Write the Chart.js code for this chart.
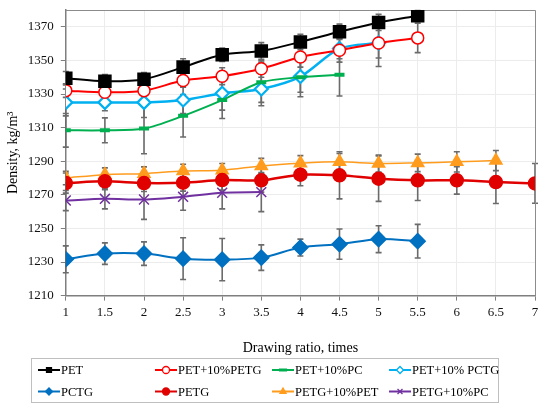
<!DOCTYPE html>
<html>
<head>
<meta charset="utf-8">
<script src="https://cdn.jsdelivr.net/npm/chart.js@4.4.0/dist/chart.umd.min.js"></script>
<style>
  html, body { margin: 0; padding: 0; background: #fff; }
  #wrap { width: 550px; height: 411px; }
</style>
</head>
<body>
<div id="wrap"><canvas id="grafico"></canvas></div>
<script>
// razão de estiramento (eixo x)
const razao = [1, 1.5, 2, 2.5, 3, 3.5, 4, 4.5, 5, 5.5, 6, 6.5, 7];
const yTicks = [1210, 1230, 1250, 1270, 1290, 1310, 1330, 1350, 1370];

// densidades (kg/m3), cada série começa em razao[0]
const pet       = [1339.4, 1337.6, 1338.8, 1346, 1353.4, 1355.6, 1361, 1367, 1372.6, 1376.6];
const petPetg   = [1332, 1331, 1332, 1338, 1340.6, 1345, 1352, 1356, 1360.4, 1363.4];
const petPc     = [1308.4, 1308.4, 1309.4, 1317, 1326.4, 1337, 1340, 1341.4];
const petPctg   = [1325, 1325, 1325, 1326.4, 1330.4, 1333, 1340.4, 1357, 1360.4];
const pctg      = [1231.6, 1235, 1235, 1232, 1231.4, 1232.6, 1238.6, 1240.6, 1243.6, 1242.4];
const petg      = [1277, 1278, 1277, 1277.2, 1278.8, 1278.6, 1282, 1281.6, 1279.6, 1278.6, 1278.6, 1277.6, 1276.8];
const petgPet   = [1280, 1282, 1282.6, 1284.2, 1284.6, 1287.2, 1288.8, 1289.6, 1288.6, 1289, 1289.6, 1290.4];
const petgPc    = [1266.6, 1267.6, 1267.2, 1268.8, 1271.2, 1271.6];

// desvios (barras de erro)
const erroPet     = [4, 4, 4, 5, 4, 5, 4.6, 4.6, 4.8, 3];
const erroPetPetg = [4, 4, 5, 4, 5, 5, 6, 7, 9, 8.8];
const erroPetPc   = [10, 7.4, 15, 12.6, 11, 12, 9, 12.6];
const erroPetPctg = [8, 5, 9, 8, 10, 10, 12, 6, 14];
const erroPctg    = [8, 6.4, 7, 12.4, 12.6, 7.6, 5, 9, 8, 10];
const erroPetg    = [6, 5, 5, 5, 6, 7, 6.6, 14, 13.5, 12, 8.2, 12.8, 11.8];
const erroPetgPet = [4, 4, 4, 4, 4, 4.5, 4.5, 5, 5, 5.2, 6, 6];
const erroPetgPc  = [6, 6, 11.8, 8, 9.6, 11.6];

function pontos(valores) {
  return valores.map((v, i) => ({ x: razao[i], y: v }));
}

const fonte = "'Liberation Serif', 'Times New Roman', serif";

function serie(label, valores, erros, cor, estilo, extra) {
  return Object.assign({
    label: label,
    data: pontos(valores),
    erros: erros,
    borderColor: cor,
    backgroundColor: cor,
    pointBackgroundColor: cor,
    pointBorderColor: cor,
    pointStyle: estilo,
    pointRadius: 6,
    pointBorderWidth: 1.5,
    borderWidth: 2,
    tension: 0.3,
    fill: false
  }, extra || {});
}

// barras de erro desenhadas com as escalas do gráfico
const barrasErro = {
  id: 'barrasErro',
  beforeDatasetsDraw(chart) {
    const ctx = chart.ctx;
    const sx = chart.scales.x, sy = chart.scales.y;
    ctx.save();
    ctx.strokeStyle = '#6b6b6b';
    ctx.lineWidth = 1.6;
    chart.data.datasets.forEach(ds => {
      ds.data.forEach((p, i) => {
        const e = ds.erros[i];
        if (!e) return;
        const x = sx.getPixelForValue(p.x);
        const y1 = sy.getPixelForValue(p.y - e);
        const y2 = sy.getPixelForValue(p.y + e);
        ctx.beginPath();
        ctx.moveTo(x, y1); ctx.lineTo(x, y2);
        ctx.moveTo(x - 3, y1); ctx.lineTo(x + 3, y1);
        ctx.moveTo(x - 3, y2); ctx.lineTo(x + 3, y2);
        ctx.stroke();
      });
    });
    ctx.restore();
  }
};

// moldura superior/direita da área do gráfico
const moldura = {
  id: 'moldura',
  beforeDatasetsDraw(chart) {
    const a = chart.chartArea, ctx = chart.ctx;
    ctx.save();
    ctx.strokeStyle = '#8c8c8c';
    ctx.lineWidth = 1;
    ctx.beginPath();
    ctx.moveTo(a.left, a.top + 0.5);
    ctx.lineTo(a.right + 0.5, a.top + 0.5);
    ctx.lineTo(a.right + 0.5, a.bottom);
    ctx.stroke();
    ctx.restore();
  }
};

// legenda em grade de 4 colunas
const legenda = {
  id: 'legenda',
  afterDraw(chart) {
    const ctx = chart.ctx;
    ctx.save();
    ctx.strokeStyle = '#bfbfbf';
    ctx.lineWidth = 1;
    ctx.strokeRect(31.5, 358.5, 467, 44);
    ctx.font = '12.5px ' + fonte;
    ctx.textBaseline = 'middle';
    ctx.fillStyle = '#000';
    chart.data.datasets.forEach((ds, i) => {
      const col = i % 4, lin = Math.floor(i / 4);
      const x0 = 38 + col * 117;
      const y0 = 370 + lin * 21.5;
      ctx.strokeStyle = ds.borderColor;
      ctx.lineWidth = 2;
      ctx.beginPath();
      ctx.moveTo(x0, y0); ctx.lineTo(x0 + 22, y0);
      ctx.stroke();
      ctx.fillStyle = ds.pointBackgroundColor;
      ctx.strokeStyle = ds.pointBorderColor;
      ctx.lineWidth = ds.pointStyle === 'line' ? 3 : 1.3;
      Chart.helpers.drawPoint(ctx, { pointStyle: ds.pointStyle, radius: ds.pointStyle === 'line' ? 4 : 3.5, rotation: 0, borderWidth: 1.3 }, x0 + 11, y0);
      ctx.fillStyle = '#000';
      ctx.fillText(ds.label, x0 + 23, y0 + 1);
    });
    ctx.restore();
  }
};

new Chart(document.getElementById('grafico').getContext('2d'), {
  type: 'line',
  data: {
    datasets: [
      serie('PET', pet, erroPet, '#000000', 'rect', { pointRadius: 8.5 }),
      serie('PET+10%PETG', petPetg, erroPetPetg, '#ff0000', 'circle', { pointBackgroundColor: '#ffffff', pointRadius: 6, pointBorderWidth: 1.5 }),
      serie('PET+10%PC', petPc, erroPetPc, '#00b050', 'line', { pointRadius: 5, pointBorderWidth: 4 }),
      serie('PET+10% PCTG', petPctg, erroPetPctg, '#00b0f0', 'rectRot', { pointBackgroundColor: '#ffffff', pointRadius: 6.5, pointBorderWidth: 2.2, borderWidth: 2.5 }),
      serie('PCTG', pctg, erroPctg, '#0070c0', 'rectRot', { pointRadius: 7.5 }),
      serie('PETG', petg, erroPetg, '#e00000', 'circle', { pointRadius: 6.5, borderWidth: 2.5 }),
      serie('PETG+10%PET', petgPet, erroPetgPet, '#ff9c1e', 'triangle', { pointRadius: 7, borderWidth: 1.5 }),
      serie('PETG+10%PC', petgPc, erroPetgPc, '#7030a0', 'crossRot', { pointRadius: 7, pointBorderWidth: 1.5 })
    ]
  },
  options: {
    responsive: true,
    maintainAspectRatio: false,
    animation: false,
    layout: { padding: { left: 0, right: 15, top: 10, bottom: 50 } },
    plugins: {
      legend: { display: false },
      tooltip: { enabled: false }
    },
    scales: {
      x: {
        type: 'linear',
        min: 1,
        max: 7,
        ticks: { stepSize: 0.5, autoSkip: false, maxRotation: 0, color: '#111', padding: 4, font: { family: fonte, size: 13 }, callback: v => String(v) },
        grid: { color: '#ececec', tickColor: '#7f7f7f', tickLength: 5 },
        border: { color: '#7f7f7f', width: 1.5 },
        title: { display: true, text: 'Drawing ratio, times', color: '#000', padding: { top: 16 }, font: { family: fonte, size: 14 } }
      },
      y: {
        min: 1210,
        max: 1380,
        afterBuildTicks: axis => { axis.ticks = yTicks.map(v => ({ value: v })); },
        afterFit: axis => { axis.paddingTop = 0; },
        ticks: { color: '#111', padding: 7, font: { family: fonte, size: 13 }, callback: v => String(v) },
        grid: { color: '#ececec', tickColor: '#7f7f7f', tickLength: 5 },
        border: { color: '#7f7f7f', width: 1.5 },
        title: { display: true, text: 'Density, kg/m³', color: '#000', padding: { top: 5, bottom: -1 }, font: { family: fonte, size: 14 } }
      }
    }
  },
  plugins: [barrasErro, moldura, legenda]
});
</script>
</body>
</html>
